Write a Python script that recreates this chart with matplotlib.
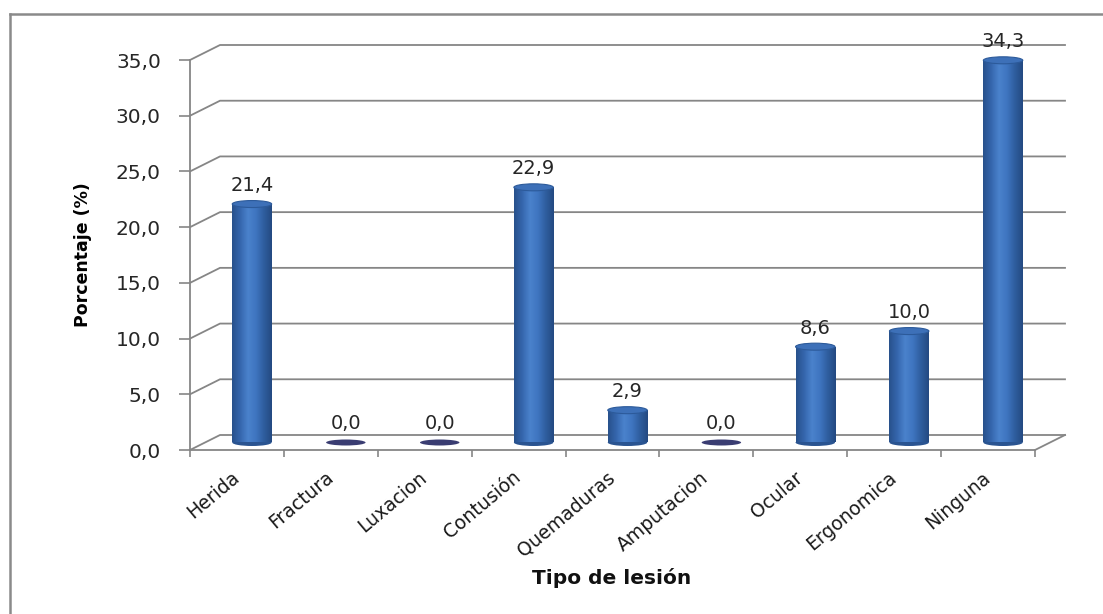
import numpy as np
import matplotlib.pyplot as plt
from matplotlib.patches import Ellipse
from matplotlib.lines import Line2D
from matplotlib.colors import LinearSegmentedColormap

tipos = ['Herida', 'Fractura', 'Luxacion', 'Contusión', 'Quemaduras',
         'Amputacion', 'Ocular', 'Ergonomica', 'Ninguna']
porcentajes = [21.4, 0.0, 0.0, 22.9, 2.9, 0.0, 8.6, 10.0, 34.3]
marcas_y = [0, 5, 10, 15, 20, 25, 30, 35]

W, H = 1103, 614
fig = plt.figure(figsize=(W / 100, H / 100), dpi=100)
ax = fig.add_axes([190 / W, (H - 450) / H, 845 / W, 390 / H])

n = len(tipos)
ymax = 35.0
ppx = 845 / n          # pixeles por categoria
ppy = 390 / ymax       # pixeles por unidad
DX = 30 / ppx          # profundidad de la pared del fondo
DY = 15 / ppy
gris = '#868686'

# pared del fondo: lineas de cuadricula con el quiebre diagonal
for v in marcas_y:
    ax.plot([0, DX, n + DX], [v, v + DY, v + DY], color=gris, lw=1.3,
            clip_on=False, zorder=1)
# piso
ax.plot([n, n + DX], [0, DY], color=gris, lw=1.3, clip_on=False, zorder=1)

# cilindros
cmap = LinearSegmentedColormap.from_list(
    'cil', ['#28518c', '#3566ad', '#4a82cc', '#3f75c0', '#2f5e9f', '#244a82'])
grad = np.linspace(0, 1, 64).reshape(1, -1)
ancho = 0.42
eh = 7 / ppy
y0 = DY / 2
for i, v in enumerate(porcentajes):
    xc = i + 0.5 + DX / 2
    if v > 0:
        base = Ellipse((xc, y0), ancho, eh, facecolor='#2a5491',
                       edgecolor='none', zorder=3, clip_on=False)
        ax.add_patch(base)
        cuerpo = ax.bar(xc, v, width=ancho, bottom=y0, color='none',
                        edgecolor='none', zorder=4)[0]
        im = ax.imshow(grad, cmap=cmap, aspect='auto', zorder=4,
                       extent=[xc - ancho / 2, xc + ancho / 2, y0, y0 + v])
        im.set_clip_path(cuerpo)
        tapa = Ellipse((xc, y0 + v), ancho, eh, facecolor='#3d70b8',
                       edgecolor='#2c5a9a', lw=0.8, zorder=5, clip_on=False)
        ax.add_patch(tapa)
    else:
        ax.add_patch(Ellipse((xc, y0), ancho, 6 / ppy, facecolor='#3a3d72',
                             edgecolor='none', zorder=5, clip_on=False))
    ax.annotate(f'{v:.1f}'.replace('.', ','), (xc, y0 + v + eh / 2),
                xytext=(0, 4), textcoords='offset points', ha='center',
                va='bottom', fontsize=14, color='#262626', zorder=6,
                annotation_clip=False)

ax.set_xlim(0, n)
ax.set_ylim(0, ymax)
for lado in ['top', 'right']:
    ax.spines[lado].set_visible(False)
for lado in ['left', 'bottom']:
    ax.spines[lado].set_color(gris)
    ax.spines[lado].set_linewidth(1.3)

ax.set_yticks(marcas_y)
ax.set_yticklabels([f'{v:.1f}'.replace('.', ',') for v in marcas_y],
                   fontsize=14.5, color='#262626')
ax.tick_params(axis='y', length=8, width=1.2, color=gris, pad=13)

ax.set_xticks(np.arange(n + 1))
ax.set_xticklabels([])
ax.tick_params(axis='x', which='major', length=5, width=1.2, color=gris)
ax.set_xticks(np.arange(n) + 0.5, minor=True)
ax.set_xticklabels(tipos, minor=True, rotation=40, ha='right', va='center',
                   rotation_mode='anchor', fontsize=13.5, color='#1a1a1a')
ax.tick_params(axis='x', which='minor', length=0, pad=18)

ax.set_facecolor('none')
ax.set_ylabel('Porcentaje (%)', fontweight='bold', fontsize=12.5)
ax.yaxis.set_label_coords((92 - 190) / 845, 0.5 - (255 - 255) / 390)
fig.text(612 / W, 1 - 578 / H, 'Tipo de lesión', ha='center', va='center',
         fontsize=14.5, fontweight='bold', color='#111111')

# marco exterior
fig.add_artist(Line2D([10 / W, 10 / W], [0, 1 - 14 / H], color='#8a8a8a',
                      lw=1.8, transform=fig.transFigure))
fig.add_artist(Line2D([10 / W, 1], [1 - 14 / H, 1 - 14 / H], color='#8a8a8a',
                      lw=1.8, transform=fig.transFigure))

fig.savefig('out.png', dpi=100, facecolor='white')
